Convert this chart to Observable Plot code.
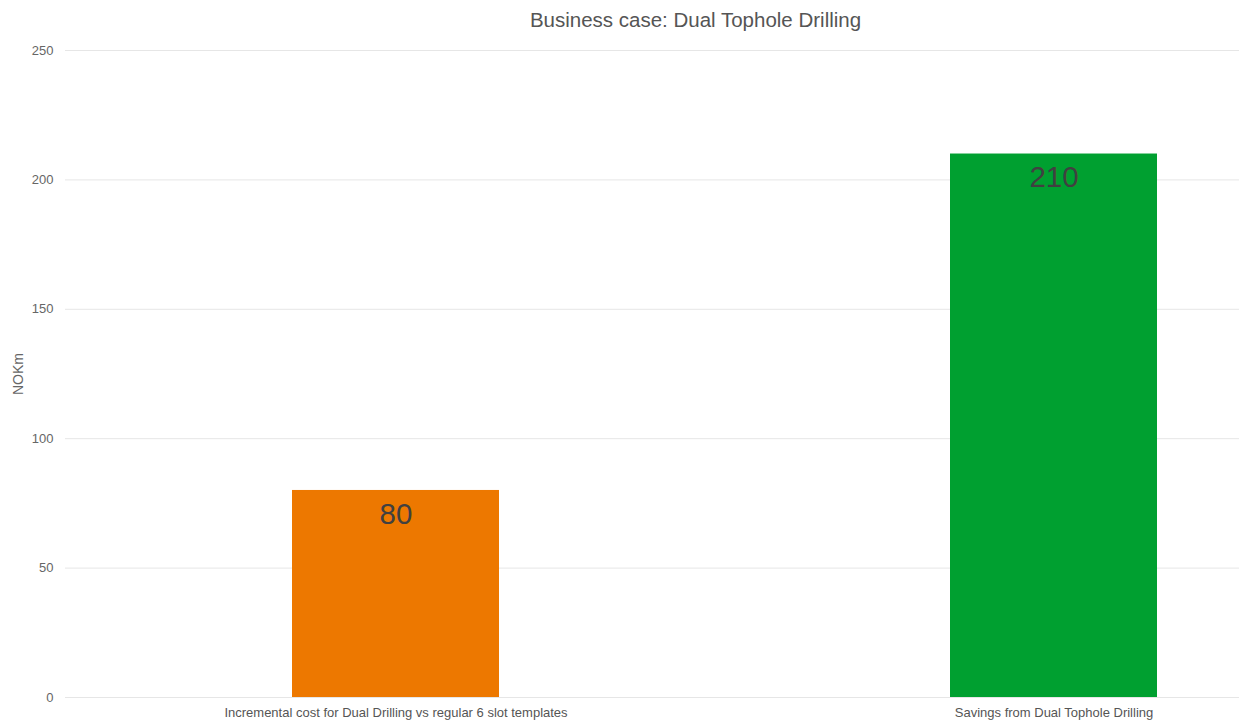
<!DOCTYPE html>
<html>
<head>
<meta charset="utf-8">
<script src="https://cdn.jsdelivr.net/npm/d3@7"></script>
<script src="https://cdn.jsdelivr.net/npm/@observablehq/plot@0.6"></script>
<style>
  html, body { margin: 0; padding: 0; background: #fff; }
  #title { height: 40px; line-height: 40px; font-family: "Liberation Sans", Arial, sans-serif; font-size: 20.5px; color: #555; text-align: center; padding-left: 152px; box-sizing: border-box; width: 1239px; }
  #chart svg { display: block; }
</style>
</head>
<body>
<div id="title">Business case: Dual Tophole Drilling</div>
<div id="chart"></div>
<script>
const categories = ["Incremental cost for Dual Drilling vs regular 6 slot templates", "Savings from Dual Tophole Drilling"];
const values = [80, 210];
const yTicks = [0, 50, 100, 150, 200, 250];

const data = categories.map((c, i) => ({category: c, value: values[i]}));

const chart = Plot.plot({
  width: 1239,
  height: 684,
  marginLeft: 65,
  marginRight: 0,
  marginTop: 10,
  marginBottom: 27,
  style: {fontFamily: "'Liberation Sans', Arial, sans-serif", fontSize: "13px", color: "#666", background: "#fff"},
  x: {domain: categories, paddingInner: 0.686, paddingOuter: 0.234, align: 0.734, label: null},
  y: {domain: [0, 250], label: "NOKm"},
  color: {domain: categories, range: ["#ED7800", "#00A030"]},
  marks: [
    Plot.gridY(yTicks, {stroke: "#e6e6e6", strokeOpacity: 1, strokeWidth: 1}),
    Plot.barY(data, {x: "category", y: "value", fill: "category"}),
    Plot.text(data, {x: "category", y: "value", text: d => String(d.value), dy: 24, fontSize: 29.5, fill: "#404040"}),
    Plot.axisY(yTicks, {tickSize: 0, tickPadding: 12, fill: "#666", label: null, fontSize: 13}),
    Plot.text(["NOKm"], {frameAnchor: "left", textAnchor: "middle", dx: -47, rotate: -90, fontSize: 14, fill: "#666"}),
    Plot.axisX({tickSize: 0, tickPadding: 10, fill: "#555", label: null, fontSize: 13})
  ]
});
document.getElementById("chart").appendChild(chart);
</script>
</body>
</html>
